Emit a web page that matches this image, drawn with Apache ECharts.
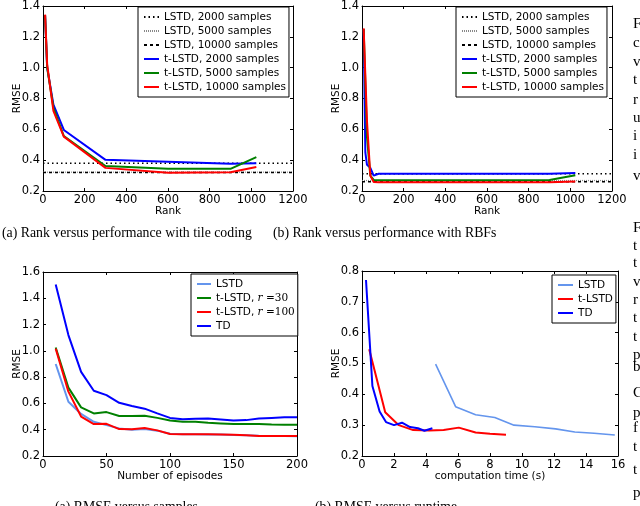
<!DOCTYPE html>
<html>
<head>
<meta charset="utf-8">
<script src="https://cdn.jsdelivr.net/npm/echarts@6/dist/echarts.min.js"></script>
<style>
  html, body { margin: 0; background: #fff; }
  #chart { width: 640px; height: 506px; }
</style>
</head>
<body>
<div id="chart"></div>
<script>
// (a) rank vs performance, tile coding
const rankA = [10, 20, 50, 100, 300, 600, 900, 1024];
const tileT2000 = [1.34, 1.0, 0.76, 0.596, 0.402, 0.39, 0.376, 0.38];
const tileT5000 = [1.34, 1.0, 0.74, 0.556, 0.362, 0.344, 0.344, 0.42];
const tileT10000 = [1.344, 1.02, 0.72, 0.553, 0.35, 0.318, 0.322, 0.355];
const tileLstd = [0.38, 0.322, 0.32]; // 2000, 5000, 10000 samples

// (b) rank vs performance, RBFs
const rankB = [8, 16, 24, 40, 56, 64, 80, 300, 600, 900, 1024];
const rbfT2000 = [1.25, 0.45, 0.37, 0.35, 0.30, 0.297, 0.312, 0.312, 0.312, 0.312, 0.316];
const rbfT5000 = [1.25, 0.9, 0.55, 0.30, 0.272, 0.27, 0.27, 0.27, 0.27, 0.272, 0.302];
const rbfT10000 = [1.255, 0.95, 0.65, 0.30, 0.258, 0.256, 0.256, 0.256, 0.256, 0.256, 0.262];
const rbfLstd = [0.312, 0.268, 0.26];

// (c) RMSE vs number of episodes
const episodes = [10, 20, 30, 40, 50, 60, 70, 80, 90, 100, 110, 120, 130, 140, 150, 160, 170, 180, 190, 200];
const epLstd = [0.90, 0.613, 0.52, 0.46, 0.435, 0.41, 0.40, 0.405, 0.393, 0.37, 0.366, 0.365, 0.364, 0.363, 0.36, 0.357, 0.354, 0.353, 0.352, 0.351];
const epR30 = [1.025, 0.72, 0.57, 0.524, 0.534, 0.504, 0.504, 0.506, 0.49, 0.47, 0.46, 0.46, 0.453, 0.448, 0.443, 0.443, 0.443, 0.44, 0.438, 0.438];
const epR100 = [1.017, 0.69, 0.50, 0.443, 0.445, 0.405, 0.403, 0.413, 0.395, 0.367, 0.365, 0.365, 0.365, 0.364, 0.362, 0.357, 0.352, 0.352, 0.352, 0.352];
const epTd = [1.504, 1.12, 0.84, 0.696, 0.663, 0.605, 0.58, 0.56, 0.524, 0.49, 0.48, 0.483, 0.485, 0.478, 0.47, 0.473, 0.485, 0.49, 0.495, 0.494];

// (d) RMSE vs computation time
const lstdTime = [4.6, 5.85, 7.1, 8.3, 9.5, 10.8, 12.1, 13.3, 14.5, 15.8];
const lstdRmse = [0.498, 0.36, 0.334, 0.325, 0.30, 0.295, 0.288, 0.278, 0.274, 0.268];
const tlstdTime = [0.45, 1.45, 2.3, 3.2, 4.2, 5.1, 6.05, 7.1, 8.0, 9.0];
const tlstdRmse = [0.546, 0.342, 0.30, 0.284, 0.283, 0.284, 0.292, 0.276, 0.272, 0.269];
const tdTime = [0.25, 0.65, 1.1, 1.5, 2.0, 2.5, 3.0, 3.5, 3.9, 4.4];
const tdRmse = [0.771, 0.427, 0.344, 0.31, 0.30, 0.308, 0.294, 0.29, 0.282, 0.29];

const sans = 'DejaVu Sans';
const serif = 'Liberation Serif';
const BLUE = '#0000ff', GREEN = '#008000', RED = '#ff0000', LIGHT = '#6495ed';

const grids = [
  { left: 43, top: 5, width: 250, height: 186 },
  { left: 362, top: 5, width: 250, height: 186 },
  { left: 43, top: 272, width: 254, height: 184 },
  { left: 362, top: 271, width: 256, height: 185 }
];

function axis(g, min, max, step, more) {
  return Object.assign({
    type: 'value', gridIndex: g, min: min, max: max, interval: step,
    splitLine: { show: false },
    axisLine: { show: true, onZero: false, lineStyle: { color: '#000', width: 1 } },
    axisTick: { show: true, inside: true, length: 3, lineStyle: { color: '#000' } },
    axisLabel: { color: '#000', fontFamily: sans, fontSize: 11.5, margin: 3 },
    nameMoveOverlap: false,
    nameTextStyle: { color: '#000', fontFamily: sans, fontSize: 10.5 }
  }, more);
}

const fmt1 = v => v.toFixed(1);
const xSpec = [[0, 1200, 200, 'Rank'], [0, 1200, 200, 'Rank'], [0, 200, 50, 'Number of episodes'], [0, 16, 2, 'computation time (s)']];
const ySpec = [[0.2, 1.4, 0.2], [0.2, 1.4, 0.2], [0.2, 1.6, 0.2], [0.2, 0.8, 0.1]];

const xAxes = [], yAxes = [];
xSpec.forEach((s, g) => xAxes.push(axis(g, s[0], s[1], s[2], {
  name: s[3], nameLocation: 'middle', nameGap: 14.5,
  axisLabel: { color: '#000', fontFamily: sans, fontSize: 11.5, margin: 3, formatter: v => String(v) }
})));
ySpec.forEach((s, g) => yAxes.push(axis(g, s[0], s[1], s[2], {
  name: 'RMSE', nameLocation: 'middle', nameGap: 20,
  axisLabel: { color: '#000', fontFamily: sans, fontSize: 11.5, margin: 3, formatter: fmt1 }
})));
// mirrored ticks on top / right, like the matplotlib frame
xSpec.forEach((s, g) => xAxes.push(axis(g, s[0], s[1], s[2], { position: 'top', axisLabel: { show: false } })));
ySpec.forEach((s, g) => yAxes.push(axis(g, s[0], s[1], s[2], { position: 'right', axisLabel: { show: false } })));

function line(name, g, xs, ys, color, width, dash) {
  return {
    type: 'line', name: name, xAxisIndex: g, yAxisIndex: g,
    data: xs.map((x, i) => [x, ys[i]]),
    symbol: 'none', silent: true, animation: false,
    lineStyle: { color: color, width: width, type: dash || 'solid' },
    itemStyle: { color: color }
  };
}

const lstdNames = ['LSTD, 2000 samples', 'LSTD, 5000 samples', 'LSTD, 10000 samples'];
const tNames = ['t-LSTD, 2000 samples', 't-LSTD, 5000 samples', 't-LSTD, 10000 samples'];
const lstdStyles = [['#000', 1.5, [1.5, 3]], ['#888', 1.2, [1, 1]], ['#000', 1.5, [3, 3]]];

function rankSeries(g, lstd, ys) {
  const xs = g === 0 ? rankA : rankB;
  const out = [];
  lstd.forEach((v, i) => out.push(line(lstdNames[i], g, [0, 1200], [v, v], lstdStyles[i][0], lstdStyles[i][1], lstdStyles[i][2])));
  out.push(line(tNames[0], g, xs, ys[0], BLUE, 2));
  out.push(line(tNames[1], g, xs, ys[1], GREEN, 2));
  out.push(line(tNames[2], g, xs, ys[2], RED, 2));
  return out;
}

const series = [].concat(
  rankSeries(0, tileLstd, [tileT2000, tileT5000, tileT10000]),
  rankSeries(1, rbfLstd, [rbfT2000, rbfT5000, rbfT10000]),
  [
    line('LSTD', 2, episodes, epLstd, LIGHT, 2),
    line('t-LSTD, r=30', 2, episodes, epR30, GREEN, 2),
    line('t-LSTD, r=100', 2, episodes, epR100, RED, 2),
    line('TD', 2, episodes, epTd, BLUE, 2),
    line('LSTD', 3, lstdTime, lstdRmse, LIGHT, 1.6),
    line('t-LSTD', 3, tlstdTime, tlstdRmse, RED, 2),
    line('TD', 3, tdTime, tdRmse, BLUE, 2)
  ]
);

function legend(left, top, names, more) {
  return Object.assign({
    left: left, top: top, orient: 'vertical', data: names,
    itemWidth: 15, itemHeight: 10, itemGap: 2,
    padding: [4, 3, 4, 5],
    borderColor: '#000', borderWidth: 1, backgroundColor: '#fff',
    selectedMode: false,
    itemStyle: { opacity: 0 },
    textStyle: { color: '#000', fontFamily: sans, fontSize: 10.5, lineHeight: 12 }
  }, more);
}

const legends = [
  legend(138, 7, lstdNames.concat(tNames)),
  legend(456, 7, lstdNames.concat(tNames)),
  legend(191, 274, ['LSTD', 't-LSTD, r=30', 't-LSTD, r=100', 'TD'], {
    itemWidth: 14,
    formatter: n => n.replace(/r=(\d+)/, '{i|r}{m| =$1}'),
    textStyle: {
      color: '#000', fontFamily: sans, fontSize: 10.5, lineHeight: 12,
      rich: {
        i: { fontFamily: 'DejaVu Serif', fontStyle: 'italic', fontSize: 10.5, color: '#000' },
        m: { fontFamily: 'DejaVu Serif', fontSize: 10.5, color: '#000' }
      }
    }
  }),
  legend(552, 275, ['LSTD', 't-LSTD', 'TD'])
];

// captions and the clipped body text on the right
const texts = [
  ['(a) Rank versus performance with tile coding', 2, 233],
  ['(b) Rank versus performance with RBFs', 273, 233],
  ['(a) RMSE versus samples', 55, 507],
  ['(b) RMSE versus runtime', 315, 507]
];
const bodyLetters = ['F', 'c', 'v', 't', 'r', 'u', 'i', 'i', 'v',
  'F', 't', 't', 'v', 'r', 't', 't', 'p', 'b', 'C', 'p', 'f', 't', 't', 'p'];
const bodyY = [24, 43, 62, 80, 100, 118, 136, 155, 176,
  228, 246, 263, 282, 300, 318, 337, 355, 367, 393, 413, 428, 447, 470, 493];

const graphic = texts.map(t => ({
  type: 'text', x: t[1], y: t[2], silent: true,
  style: { text: t[0], font: '13.8px "' + serif + '"', fill: '#000', verticalAlign: 'middle' }
})).concat(bodyLetters.map((c, i) => ({
  type: 'text', x: 633, y: bodyY[i], silent: true,
  style: { text: c, font: '15px "' + serif + '"', fill: '#000', verticalAlign: 'middle' }
})));

const chart = echarts.init(document.getElementById('chart'));
chart.setOption({
  animation: false,
  backgroundColor: '#fff',
  grid: grids,
  xAxis: xAxes,
  yAxis: yAxes,
  legend: legends,
  series: series,
  graphic: graphic
});
</script>
</body>
</html>
